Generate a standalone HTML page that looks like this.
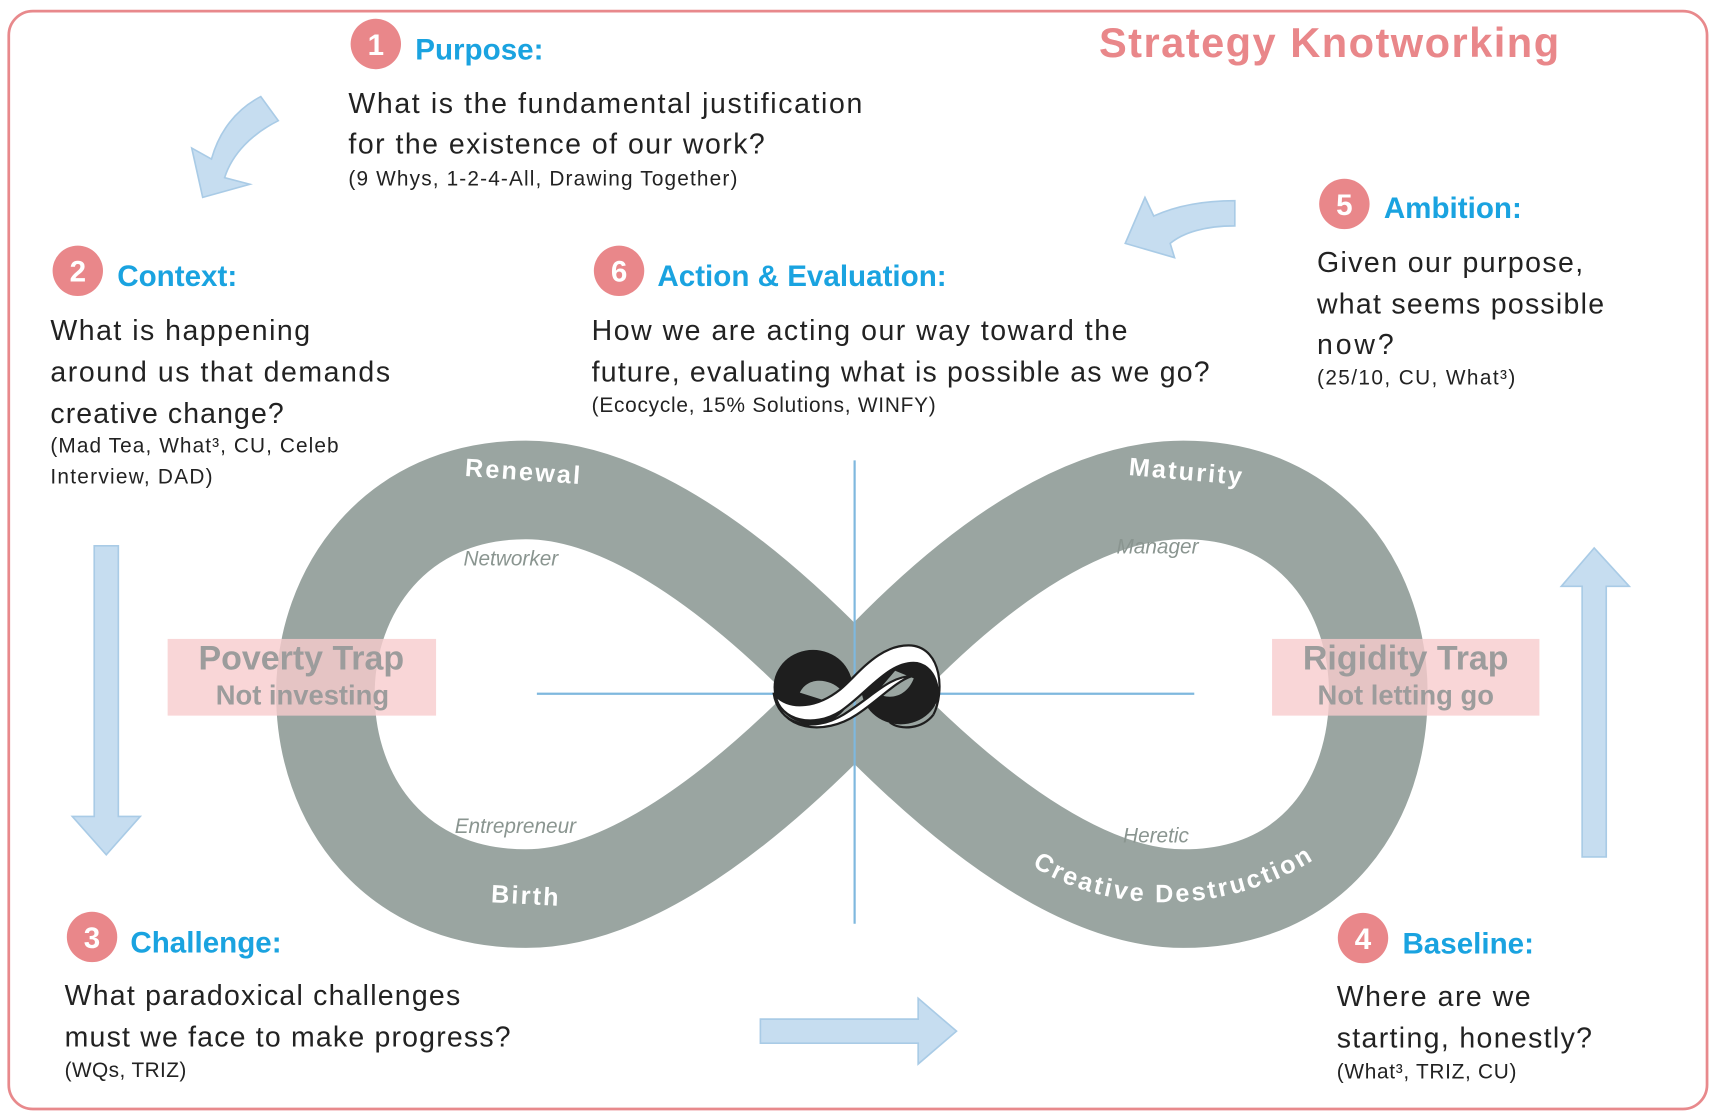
<!DOCTYPE html>
<html><head><meta charset="utf-8">
<style>
html,body{margin:0;padding:0;background:#fff;}
svg{display:block;}
text{font-family:"Liberation Sans",sans-serif;}
.h{fill:#1aa3e0;font-weight:bold;font-size:27px;}
.b{fill:#222;font-size:26px;}
.s{fill:#222;font-size:19px;}
.n{fill:#fff;font-weight:bold;font-size:27px;text-anchor:middle;}
.band{fill:#fff;font-weight:bold;font-size:23px;letter-spacing:2px;}
.role{fill:#8a9590;font-style:italic;font-size:19px;}
.trap1{fill:#9c9c9c;font-weight:bold;font-size:31px;text-anchor:middle;}
.trap2{fill:#9c9c9c;font-weight:bold;font-size:25px;text-anchor:middle;}
</style></head>
<body>
<svg width="1718" height="1119" viewBox="0 0 1568 1021" xmlns="http://www.w3.org/2000/svg">
<rect x="8" y="10" width="1550" height="1002" rx="22" fill="#fff" stroke="#e8898c" stroke-width="2.5"/>
<text x="1003" y="52" fill="#e9878a" font-weight="bold" font-size="38" textLength="420">Strategy Knotworking</text>

<path d="M780,633 C900,500 1000,447 1080,447 C1200,447 1258,540 1258,633 C1258,730 1200,820 1080,820 C1000,820 900,760 780,633 C660,505 560,447 480,447 C360,447 297,540 297,633 C297,730 360,820 480,820 C560,820 660,760 780,633 Z" fill="none" stroke="#9aa5a1" stroke-width="90"/>
<path id="cd" d="M942,790 C1010,835 1130,840 1220,770" fill="none"/>

<line x1="780" y1="420" x2="780" y2="843" stroke="#7fb8de" stroke-width="2"/>
<line x1="490" y1="633" x2="1090" y2="633" stroke="#7fb8de" stroke-width="2"/>

<text class="band" x="478" y="438" text-anchor="middle" transform="rotate(4 478 430)">Renewal</text>
<text class="band" x="1083" y="438" text-anchor="middle" transform="rotate(5 1083 430)">Maturity</text>
<text class="band" x="480" y="825" text-anchor="middle" transform="rotate(3 480 818)">Birth</text>
<text class="band" font-size="24"><textPath href="#cd" textLength="272" lengthAdjust="spacing">Creative Destruction</textPath></text>

<text class="role" x="423" y="516">Networker</text>
<text class="role" x="1019" y="505">Manager</text>
<text class="role" x="415" y="760">Entrepreneur</text>
<text class="role" x="1025" y="769">Heretic</text>

<rect x="153" y="583" width="245" height="70" fill="#f7cccd" opacity="0.8"/>
<rect x="1161" y="583" width="244" height="70" fill="#f7cccd" opacity="0.8"/>
<text class="trap1" x="275" y="611">Poverty Trap</text>
<text class="trap2" x="276" y="643">Not investing</text>
<text class="trap1" x="1283" y="611">Rigidity Trap</text>
<text class="trap2" x="1283" y="643">Not letting go</text>

<!-- center knot -->
<g transform="translate(782,627)">
<ellipse cx="-40" cy="0" rx="36" ry="34" fill="#1e1e1e"/>
<ellipse cx="40" cy="0" rx="36" ry="34" fill="#1e1e1e"/>
<path d="M-52,5 C-45,-10 -25,-8 -15,2 L-30,12 Z" fill="#9aa5a1"/>
<path d="M52,-8 C45,10 28,12 18,5 L35,-15 Z" fill="#9aa5a1"/>
<path d="M-74,8 C-70,30 -40,38 -15,22 C10,5 30,-25 55,-22 C75,-18 78,10 70,25 C80,5 78,-35 50,-38 C20,-40 0,-10 -15,2 C-35,18 -60,22 -74,8Z" fill="#fff" stroke="#1e1e1e" stroke-width="2"/>
<path d="M-76,5 C-72,35 -40,42 -12,25 C15,8 30,-10 50,-10 C35,-5 20,12 0,25 C-30,45 -70,40 -76,5Z" fill="#fff" stroke="#1e1e1e" stroke-width="2"/>
<path d="M70,25 C60,38 40,40 30,32" fill="none" stroke="#1e1e1e" stroke-width="2"/>
</g>

<g fill="#c6ddf0" stroke="#a9cbe6" stroke-width="1.5">
<polygon points="86,498 108,498 108,745 128,745 97,780 66,745 86,745"/>
<polygon points="1444,782 1466,782 1466,535 1487,535 1455,500 1425,535 1444,535"/>
<polygon points="694,930 838,930 838,911 873,941 838,971 838,952 694,952"/>
<path d="M238,88 L254,110 C230,122 212,140 205,162 L228,168 L185,180 L175,135 L193,145 C200,120 215,100 238,88Z"/>
<path d="M1127,183 L1127,206 C1100,206 1080,212 1068,222 L1072,235 L1027,222 L1045,180 L1053,197 C1075,187 1100,183 1127,183Z"/>
</g>

<g fill="#e9878a">
<circle cx="343" cy="40" r="23"/><circle cx="71" cy="247" r="23"/><circle cx="84" cy="855" r="23"/>
<circle cx="1244" cy="856" r="23"/><circle cx="1227" cy="186" r="23"/><circle cx="565" cy="247" r="23"/>
</g>
<text class="n" x="343" y="50">1</text><text class="n" x="71" y="257">2</text><text class="n" x="84" y="865">3</text>
<text class="n" x="1244" y="866">4</text><text class="n" x="1227" y="196">5</text><text class="n" x="565" y="257">6</text>

<text class="h" x="379" y="54">Purpose:</text>
<text class="b" x="318" y="103" textLength="469">What is the fundamental justification</text>
<text class="b" x="318" y="140" textLength="380">for the existence of our work?</text>
<text class="s" x="318" y="169" textLength="355">(9 Whys, 1-2-4-All, Drawing Together)</text>

<text class="h" x="107" y="261">Context:</text>
<text class="b" x="46" y="310" textLength="237">What is happening</text>
<text class="b" x="46" y="348" textLength="310">around us that demands</text>
<text class="b" x="46" y="386" textLength="213">creative change?</text>
<text class="s" x="46" y="413" textLength="263">(Mad Tea, What³, CU, Celeb</text>
<text class="s" x="46" y="441" textLength="148">Interview, DAD)</text>

<text class="h" x="600" y="261">Action &amp; Evaluation:</text>
<text class="b" x="540" y="310" textLength="489">How we are acting our way toward the</text>
<text class="b" x="540" y="348" textLength="564">future, evaluating what is possible as we go?</text>
<text class="s" x="540" y="376" textLength="314">(Ecocycle, 15% Solutions, WINFY)</text>

<text class="h" x="1263" y="199">Ambition:</text>
<text class="b" x="1202" y="248" textLength="243">Given our purpose,</text>
<text class="b" x="1202" y="286" textLength="262">what seems possible</text>
<text class="b" x="1202" y="323" textLength="70">now?</text>
<text class="s" x="1202" y="351" textLength="181">(25/10, CU, What³)</text>

<text class="h" x="119" y="869">Challenge:</text>
<text class="b" x="59" y="917" textLength="361">What paradoxical challenges</text>
<text class="b" x="59" y="955" textLength="407">must we face to make progress?</text>
<text class="s" x="59" y="983" textLength="111">(WQs, TRIZ)</text>

<text class="h" x="1280" y="870">Baseline:</text>
<text class="b" x="1220" y="918" textLength="177">Where are we</text>
<text class="b" x="1220" y="956" textLength="233">starting, honestly?</text>
<text class="s" x="1220" y="984" textLength="164">(What³, TRIZ, CU)</text>
</svg>
</body></html>
